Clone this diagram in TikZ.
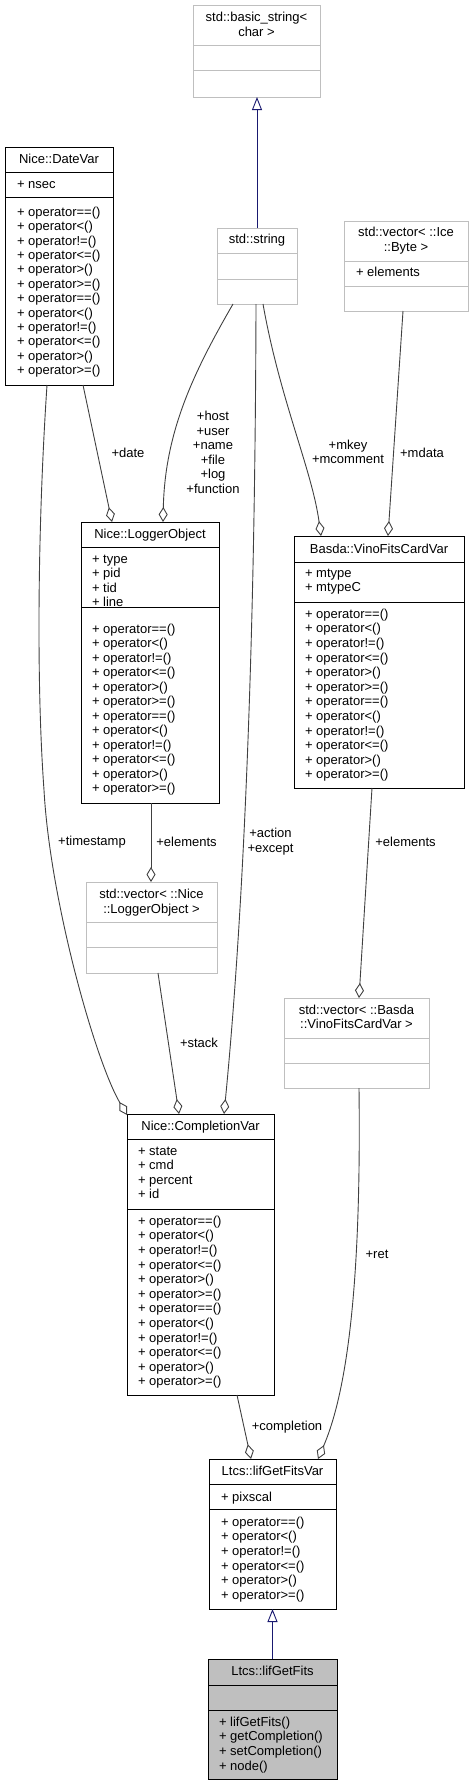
\documentclass[tikz,border=0pt]{standalone}
\usepackage{fontspec}
\setmainfont{Liberation Sans}
\usetikzlibrary{arrows.meta}
\definecolor{edgegray}{HTML}{404040}
\definecolor{boxgray}{HTML}{BFBFBF}
\definecolor{inhblue}{HTML}{191970}
\def\opsB{+ operator==(),+ operator<(),+ operator!=(),+ operator<=(),+ operator>(),+ operator>=()}
\def\opsA{+ operator==(),+ operator<(),+ operator!=(),+ operator<=(),+ operator>(),+ operator>=(),+ operator==(),+ operator<(),+ operator!=(),+ operator<=(),+ operator>(),+ operator>=()}
\def\attDV{+ nsec}
\def\attLO{+ type,+ pid,+ tid,+ line}
\def\attBV{+ mtype,+ mtypeC}
\def\attCV{+ state,+ cmd,+ percent,+ id}
\def\attLV{+ pixscal}
\def\attBY{+ elements}
\def\opsLG{+ lifGetFits(),+ getCompletion(),+ setCompletion(),+ node()}
% name, x1, y1, x2, y2, sep1, sep2, style, sepcolor
\newcommand\umlcls[9]{%
  \node[#8, anchor=north west, minimum width={(#4)-(#2)}, minimum height={(#5)-(#3)}] (#1) at (#2,#3) {};
  \draw[draw=#9, line width=1pt] (#2,#6) -- (#4,#6);
  \draw[draw=#9, line width=1pt] (#2,#7) -- (#4,#7);
}
% name, x, y0, step, list macro
\newcommand\umltxt[5]{%
  \foreach \t [count=\i] in #5 {
    \node[txt, anchor=base west] (#1-\i) at (#2, {#3+(\i-1)*#4+4.2}) {\t};
  }
}
\begin{document}
\begin{tikzpicture}[x=1pt,y=-1pt,
  blackbox/.style={draw=black, line width=1pt, fill=white, inner sep=0pt, outer sep=0pt},
  graybox/.style={draw=boxgray, line width=1pt, fill=white, inner sep=0pt, outer sep=0pt},
  curbox/.style={draw=black, line width=1pt, fill=boxgray, inner sep=0pt, outer sep=0pt},
  txt/.style={font=\fontsize{13}{14.5}\selectfont, inner sep=0pt, outer sep=0pt},
  lbl/.style={txt, align=center},
  agg/.style={draw=edgegray, line width=0.9pt, -{Diamond[open, length=15pt, width=9pt, fill=white]}},
  inh/.style={draw=inhblue, line width=0.9pt, -{Triangle[open, length=13pt, width=10pt, fill=white]}},
]
\useasboundingbox (0,0) rectangle (473,1785);

% ---------- classes ----------
\umlcls{bs}{193}{6}{320}{97}{46}{71}{graybox}{boxgray}
\node[txt, anchor=base] (bs-t1) at (256.5,21.5) {std::basic\_string<};
\node[txt, anchor=base] (bs-t2) at (256.5,36.5) {char >};

\umlcls{str}{217}{228}{297}{304}{253}{279}{graybox}{boxgray}
\node[txt, anchor=base] (str-t) at (257,243.7) {std::string};

\umlcls{by}{344}{221}{468}{311}{261}{286}{graybox}{boxgray}
\node[txt, anchor=base] (by-t1) at (406,236.2) {std::vector< ::Ice};
\node[txt, anchor=base] (by-t2) at (406,251.2) {::Byte >};
\umltxt{by-a}{356}{272}{14.45}{\attBY}

\umlcls{dv}{5}{147}{113}{385}{172}{197}{blackbox}{black}
\node[txt, anchor=base] (dv-t) at (59,163.2) {Nice::DateVar};
\umltxt{dv-a}{17}{184}{14.45}{\attDV}
\umltxt{dv-o}{17}{212}{14.4}{\opsA}

\umlcls{lo}{81}{522}{219}{803}{547}{607}{blackbox}{black}
\node[txt, anchor=base] (lo-t) at (150,538.2) {Nice::LoggerObject};
\umltxt{lo-a}{92}{559}{14.45}{\attLO}
\umltxt{lo-o}{92}{629}{14.5}{\opsA}

\umlcls{bv}{294}{536}{464}{788}{562}{602}{blackbox}{black}
\node[txt, anchor=base] (bv-t) at (379,553.2) {Basda::VinoFitsCardVar};
\umltxt{bv-a}{305}{573}{14.45}{\attBV}
\umltxt{bv-o}{305}{614}{14.6}{\opsA}

\umlcls{vl}{86}{882}{217}{973}{922}{947}{graybox}{boxgray}
\node[txt, anchor=base] (vl-t1) at (151.5,898.2) {std::vector< ::Nice};
\node[txt, anchor=base] (vl-t2) at (151.5,913.2) {::LoggerObject >};

\umlcls{vb}{284}{998}{429}{1088}{1038}{1063}{graybox}{boxgray}
\node[txt, anchor=base] (vb-t1) at (356.5,1014.2) {std::vector< ::Basda};
\node[txt, anchor=base] (vb-t2) at (356.5,1028.2) {::VinoFitsCardVar >};

\umlcls{cv}{127}{1114}{274}{1395}{1139}{1209}{blackbox}{black}
\node[txt, anchor=base] (cv-t) at (200.5,1130.2) {Nice::CompletionVar};
\umltxt{cv-a}{138}{1151}{14.45}{\attCV}
\umltxt{cv-o}{138}{1221}{14.6}{\opsA}

\umlcls{lv}{209}{1459}{336}{1609}{1484}{1509}{blackbox}{black}
\node[txt, anchor=base] (lv-t) at (272.5,1475.2) {Ltcs::lifGetFitsVar};
\umltxt{lv-a}{221}{1497}{14.45}{\attLV}
\umltxt{lv-o}{221}{1522}{14.6}{\opsB}

\umlcls{lg}{208}{1659}{337}{1779}{1685}{1710}{curbox}{black}
\node[txt, anchor=base] (lg-t) at (272.5,1675.2) {Ltcs::lifGetFits};
\umltxt{lg-o}{219}{1722}{14.7}{\opsLG}

% ---------- connector end points ----------
\coordinate (dateS) at (83,385);    \coordinate (dateE) at (112,522);
\coordinate (hostS) at (233,304);   \coordinate (hostE) at (163,522);
\coordinate (mkeyS) at (263,304);   \coordinate (mkeyE) at (321,536);
\coordinate (mdatS) at (403,311);   \coordinate (mdatE) at (388,536);
\coordinate (tsS) at (47,385);      \coordinate (tsM) at (44,790);   \coordinate (tsE) at (127,1115);
\coordinate (elLS) at (151,803);    \coordinate (elLE) at (151,882);
\coordinate (actS) at (256,304);    \coordinate (actE) at (224,1114);
\coordinate (elBS) at (372,788);    \coordinate (elBE) at (359,998);
\coordinate (stkS) at (158,973);    \coordinate (stkE) at (179,1114);
\coordinate (cmpS) at (237,1395);   \coordinate (cmpE) at (251,1459);
\coordinate (retS) at (359,1088);   \coordinate (retE) at (318,1459);

% ---------- connectors ----------
\draw[inh] (str.north) -- (str.north |- bs.south);
\draw[inh] (lg.north) -- (lg.north |- lv.south);

\draw[agg] (dateS) -- (dateE);
\draw[agg] (hostS) .. controls (195,370) and (165,430) .. (hostE);
\draw[agg] (mkeyS) .. controls (280,400) and (312,470) .. (mkeyE);
\draw[agg] (mdatS) -- (mdatE);
\draw[agg] (tsS) .. controls (38,520) and (36,680) .. (tsM) .. controls (50,900) and (95,1060) .. (tsE);
\draw[agg] (elLS) -- (elLE);
\draw[agg] (actS) .. controls (255,700) and (240,950) .. (actE);
\draw[agg] (elBS) -- (elBE);
\draw[agg] (stkS) -- (stkE);
\draw[agg] (cmpS) -- (cmpE);
\draw[agg] (retS) .. controls (361,1250) and (352,1380) .. (retE);

% ---------- labels ----------
\node[lbl] (l-date) at (128,453) {+date};
\node[lbl] (l-host) at (213,452.5) {+host\\+user\\+name\\+file\\+log\\+function};
\node[lbl] (l-mkey) at (348,452) {+mkey\\+mcomment};
\node[lbl] (l-mdata) at (422,453) {+mdata};
\node[lbl] (l-ts) at (92,842) {+timestamp};
\node[lbl] (l-elL) at (186.5,842) {+elements};
\node[lbl] (l-act) at (270.5,841.5) {+action\\+except};
\node[lbl] (l-elB) at (405.5,842) {+elements};
\node[lbl] (l-stk) at (199,1043) {+stack};
\node[lbl] (l-ret) at (377,1254) {+ret};
\node[lbl] (l-cmp) at (287,1427) {+completion};
\end{tikzpicture}
\end{document}
